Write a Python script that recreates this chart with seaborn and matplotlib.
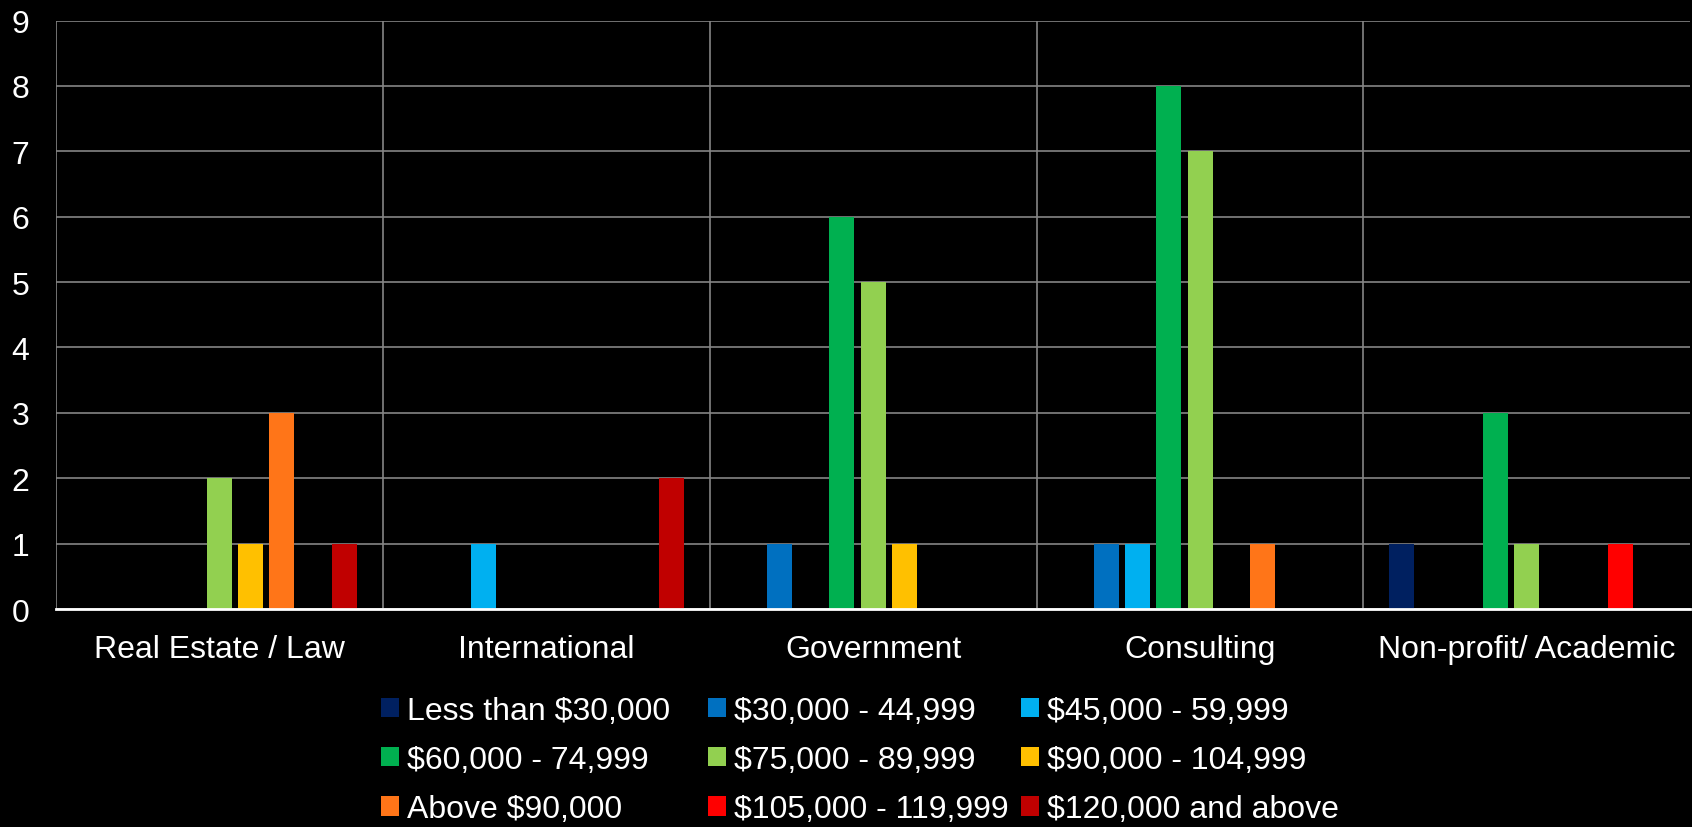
"""Salary range by sector: grouped bar chart on a black background."""

import matplotlib.pyplot as plt
import pandas as pd
import seaborn as sns
from matplotlib.patches import Patch

SECTORS = ["Real Estate / Law", "International", "Government", "Consulting", "Non-profit/ Academic"]
SALARY_BANDS = [
    "Less than $30,000",
    "$30,000 - 44,999",
    "$45,000 - 59,999",
    "$60,000 - 74,999",
    "$75,000 - 89,999",
    "$90,000 - 104,999",
    "Above $90,000",
    "$105,000 - 119,999",
    "$120,000 and above",
]
LESS_30K = [0, 0, 0, 0, 1]
BAND_30K = [0, 0, 1, 1, 0]
BAND_45K = [0, 1, 0, 1, 0]
BAND_60K = [0, 0, 6, 8, 3]
BAND_75K = [2, 0, 5, 7, 1]
BAND_90K = [1, 0, 1, 0, 0]
ABOVE_90K = [3, 0, 0, 1, 0]
BAND_105K = [0, 0, 0, 0, 1]
ABOVE_120K = [1, 2, 0, 0, 0]
BAND_COLORS = ["#002060", "#0070C0", "#00B0F0", "#00B050", "#92D050",
               "#FFC000", "#FF7518", "#FF0000", "#C00000"]

series = [LESS_30K, BAND_30K, BAND_45K, BAND_60K, BAND_75K,
          BAND_90K, ABOVE_90K, BAND_105K, ABOVE_120K]
rows = []
for band, values in zip(SALARY_BANDS, series):
    for sector, count in zip(SECTORS, values):
        rows.append({"sector": sector, "band": band, "count": count})
df = pd.DataFrame(rows)

sns.set_style("dark", {"axes.facecolor": "black", "figure.facecolor": "black"})
plt.rcParams["font.family"] = ["Liberation Sans", "DejaVu Sans"]

FONT_SIZE = 23
GRID_COLOR = "#858585"

fig = plt.figure(figsize=(16.92, 8.28), dpi=100)
ax = fig.add_axes([56 / 1692, 1 - 610 / 828, 1 - 56 / 1692 - 0.001, (610 - 21.6) / 828])

sns.barplot(
    data=df, x="sector", y="count", hue="band", hue_order=SALARY_BANDS,
    order=SECTORS, palette=BAND_COLORS, width=0.86, gap=0.2,
    linewidth=0, saturation=1, legend=False, ax=ax,
)

ax.set_ylim(0, 9)
ax.set_xlim(-0.5, len(SECTORS) - 0.5)
ax.set_yticks(range(10))
ax.set_xticks([i + 0.5 for i in range(len(SECTORS) - 1)], minor=True)
ax.grid(True, axis="y", color=GRID_COLOR, linewidth=1.2)
ax.grid(True, axis="x", which="minor", color=GRID_COLOR, linewidth=1.2)
ax.grid(False, axis="x", which="major")
ax.axvline(-0.5, color=GRID_COLOR, linewidth=1.2)
ax.set_axisbelow(True)
for side in ["top", "right", "left"]:
    ax.spines[side].set_visible(False)
ax.spines["bottom"].set_color("white")
ax.spines["bottom"].set_linewidth(2)
ax.tick_params(axis="y", length=0, pad=19, labelsize=FONT_SIZE, labelcolor="white")
ax.tick_params(axis="x", which="both", length=0, pad=18, labelsize=FONT_SIZE, labelcolor="white")
ax.set_xlabel("")
ax.set_ylabel("")

# Excel lays the legend out in fixed-width columns, so one legend per column
handles = [Patch(facecolor=c, edgecolor="none") for c in BAND_COLORS]
column_x = [381, 708, 1021]
for col, x_px in enumerate(column_x):
    idx = [col, col + 3, col + 6]
    fig.legend(
        [handles[i] for i in idx], [SALARY_BANDS[i] for i in idx],
        loc="upper left", bbox_to_anchor=(x_px / 1692, 1 - 697 / 828),
        ncol=1, frameon=False, fontsize=FONT_SIZE, labelcolor="white",
        handlelength=0.55, handleheight=0.55, handletextpad=0.25,
        labelspacing=0.6, borderaxespad=0, borderpad=0,
    )

fig.savefig("out.png", dpi=100, facecolor="black")
